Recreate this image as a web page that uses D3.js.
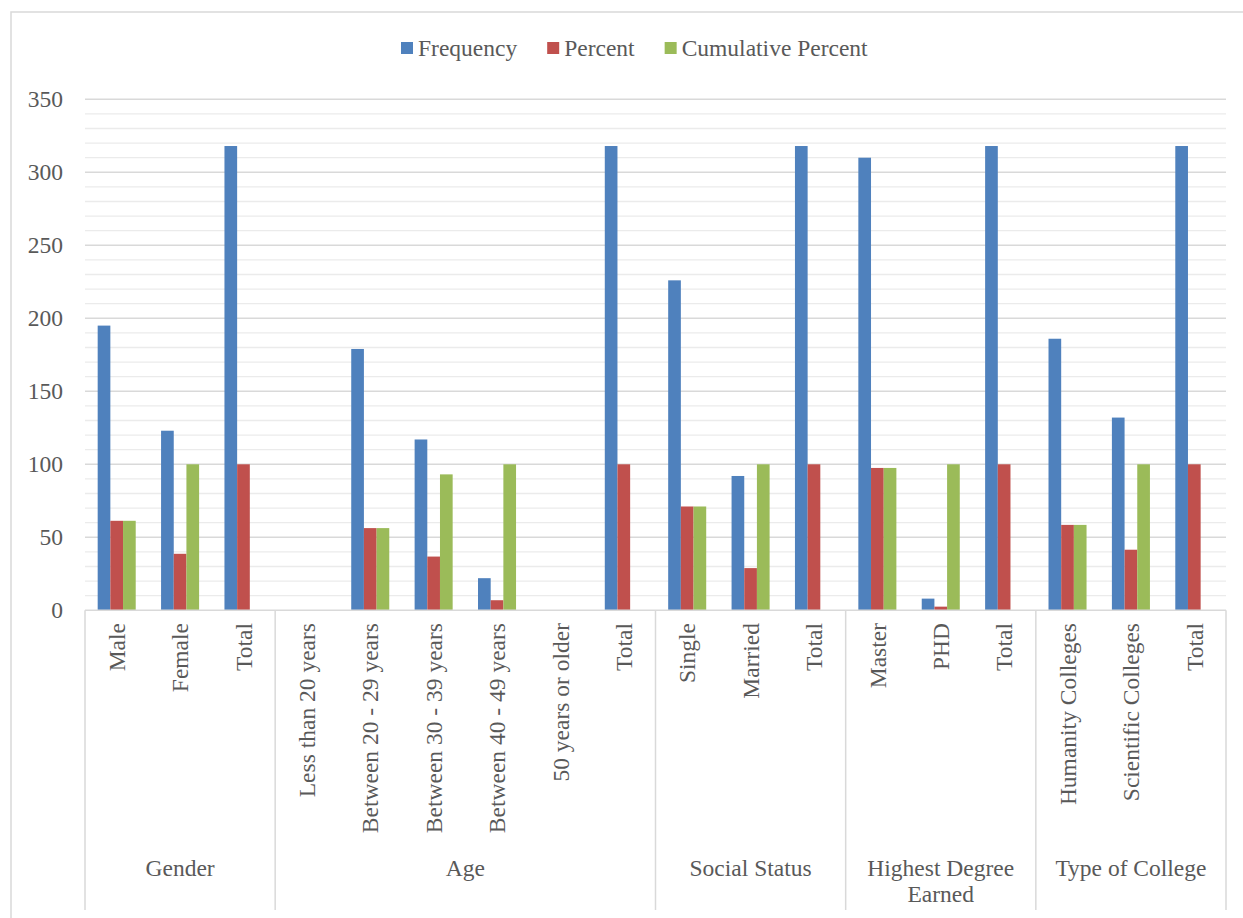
<!DOCTYPE html>
<html>
<head>
<meta charset="utf-8">
<script src="https://cdn.jsdelivr.net/npm/d3@7"></script>
<style>
  body { margin: 0; background: #fff; }
  svg text { font-family: "Liberation Serif", "DejaVu Serif", "Noto Serif", serif !important; fill: #595959; }
</style>
</head>
<body>
<svg id="chart" width="1243" height="918"></svg>
<script>
// ---- data ----
const groups = ["Gender", "Age", "Social Status", "Highest Degree Earned", "Type of College"];
const categories = [
  ["Gender", "Male"], ["Gender", "Female"], ["Gender", "Total"],
  ["Age", "Less than 20 years"], ["Age", "Between 20 - 29 years"], ["Age", "Between 30 - 39 years"],
  ["Age", "Between 40 - 49 years"], ["Age", "50 years or older"], ["Age", "Total"],
  ["Social Status", "Single"], ["Social Status", "Married"], ["Social Status", "Total"],
  ["Highest Degree Earned", "Master"], ["Highest Degree Earned", "PHD"], ["Highest Degree Earned", "Total"],
  ["Type of College", "Humanity Colleges"], ["Type of College", "Scientific Colleges"], ["Type of College", "Total"]
];
const seriesNames = ["Frequency", "Percent", "Cumulative Percent"];
const frequency  = [195, 123, 318, 0, 179, 117, 22, 0, 318, 226, 92, 318, 310, 8, 318, 186, 132, 318];
const percent    = [61.3, 38.7, 100, 0, 56.3, 36.8, 6.9, 0, 100, 71.1, 28.9, 100, 97.5, 2.5, 100, 58.5, 41.5, 100];
const cumPercent = [61.3, 100, null, 0, 56.3, 93.1, 100, 0, null, 71.1, 100, null, 97.5, 100, null, 58.5, 100, null];
const yTicks = [0, 50, 100, 150, 200, 250, 300, 350];
const colors = ["#4F81BD", "#C0504D", "#9BBB59"];

// ---- layout ----
const svg = d3.select("#chart");
const plotLeft = 85, plotRight = 1226, plotTop = 99.3, plotBottom = 610.3;
const fontSize = 23.5;
const fontFam = '"Liberation Serif", "DejaVu Serif", "Noto Serif", serif';

// outer border
svg.append("rect").attr("x", 11).attr("y", 12).attr("width", 1260).attr("height", 940)
  .attr("fill", "none").attr("stroke", "#d9d9d9").attr("stroke-width", 1.5);

const x = d3.scaleBand().domain(d3.range(categories.length)).range([plotLeft, plotRight]).paddingInner(0.4).paddingOuter(0.2);
const xCat = d3.scaleBand().domain(d3.range(categories.length)).range([plotLeft, plotRight]);
const xSub = d3.scaleBand().domain(seriesNames).range([0, x.bandwidth()]);
const y = d3.scaleLinear().domain([0, 350]).range([plotBottom, plotTop]);

// minor grid
const minor = d3.range(10, 350, 10).filter(v => v % 50 !== 0);
svg.append("g").selectAll("line").data(minor).join("line")
  .attr("x1", plotLeft).attr("x2", plotRight).attr("y1", d => y(d)).attr("y2", d => y(d))
  .attr("stroke", "#ebebeb").attr("stroke-width", 1.3);
// major grid
svg.append("g").selectAll("line").data(yTicks.filter(d => d > 0)).join("line")
  .attr("x1", plotLeft).attr("x2", plotRight).attr("y1", d => y(d)).attr("y2", d => y(d))
  .attr("stroke", "#d9d9d9").attr("stroke-width", 1.4);

// y axis labels
const yAxis = d3.axisLeft(y).tickValues(yTicks).tickSize(0).tickPadding(22);
const yg = svg.append("g").attr("transform", `translate(${plotLeft},0)`).call(yAxis)
  .attr("font-family", fontFam).attr("font-size", fontSize);
yg.select(".domain").remove();
yg.selectAll("text").style("font-size", fontSize + "px").attr("fill", "#595959")
  .style("font-family", fontFam);

// bars
const seriesData = [frequency, percent, cumPercent];
seriesNames.forEach((name, si) => {
  svg.append("g").selectAll("rect")
    .data(seriesData[si].map((v, i) => ({ v, i })).filter(d => d.v !== null && d.v > 0))
    .join("rect")
    .attr("x", d => x(d.i) + xSub(name))
    .attr("width", xSub.bandwidth())
    .attr("y", d => y(d.v))
    .attr("height", d => y(0) - y(d.v))
    .attr("fill", colors[si]);
});

// x axis line
svg.append("line").attr("x1", plotLeft).attr("x2", plotRight).attr("y1", plotBottom).attr("y2", plotBottom)
  .attr("stroke", "#d9d9d9").attr("stroke-width", 1.5);

// group separators
const sepBottom = 910;
const groupBounds = groups.map(g => {
  const idx = categories.map((c, i) => c[0] === g ? i : -1).filter(i => i >= 0);
  return { g, start: xCat(idx[0]), end: xCat(idx[idx.length - 1]) + xCat.bandwidth() };
});
const sepXs = [plotLeft].concat(groupBounds.map(b => b.end));
svg.append("g").selectAll("line").data(sepXs).join("line")
  .attr("x1", d => d).attr("x2", d => d).attr("y1", plotBottom).attr("y2", sepBottom)
  .attr("stroke", "#d9d9d9").attr("stroke-width", 1.5);

// category labels (rotated)
svg.append("g").selectAll("text").data(categories).join("text")
  .attr("transform", (d, i) => `translate(${xCat(i) + xCat.bandwidth() / 2},623) rotate(-90)`)
  .attr("text-anchor", "end").attr("dy", "0.35em")
  .style("font-size", fontSize + "px").style("font-family", fontFam)
  .text(d => d[1]);

// group labels
const wrapMap = { "Highest Degree Earned": ["Highest Degree", "Earned"] };
groupBounds.forEach(b => {
  const lines = wrapMap[b.g] || [b.g];
  const t = svg.append("text").attr("text-anchor", "middle")
    .style("font-size", fontSize + "px").style("font-family", fontFam);
  lines.forEach((ln, k) => {
    t.append("tspan").attr("x", (b.start + b.end) / 2).attr("y", 868 + k * 26).attr("dy", "0.35em").text(ln);
  });
});

// legend
const lg = svg.append("g");
let lx = 401;
seriesNames.forEach((name, si) => {
  lg.append("rect").attr("x", lx).attr("y", 42).attr("width", 12).attr("height", 12).attr("fill", colors[si]);
  const t = lg.append("text").attr("x", lx + 17).attr("y", 48).attr("dy", "0.35em")
    .style("font-size", fontSize + "px").style("font-family", fontFam).text(name);
  lx += 17 + t.node().getComputedTextLength() + 30;
});
</script>
</body>
</html>
